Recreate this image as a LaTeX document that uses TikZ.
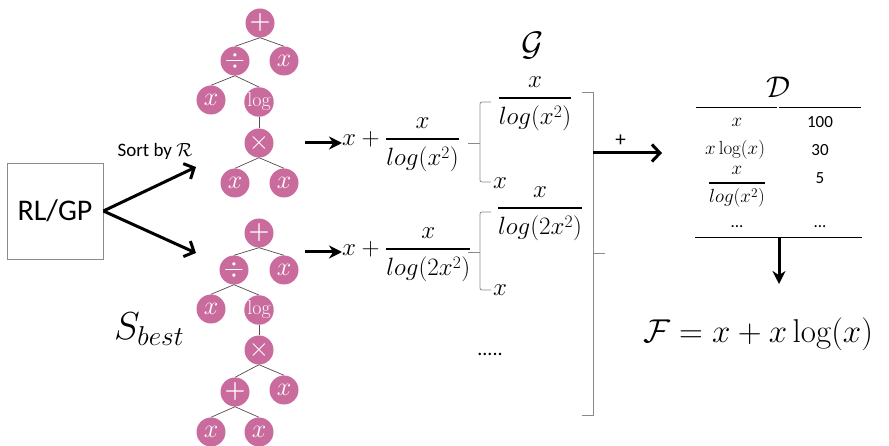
\RequirePackage{fix-cm}
\documentclass[tikz,border=0pt]{standalone}
\usepackage{fontspec}
\usepackage{amsmath, amssymb}
\usetikzlibrary{positioning, calc, arrows.meta}
\newfontfamily\calibri{Carlito}
\newcommand{\fsz}[1]{\fontsize{#1}{#1}\selectfont}
\newcommand{\barfrac}[2]{\genfrac{}{}{2.2pt}{0}{#1}{#2}}
\definecolor{Pink}{HTML}{C96B9D}
\definecolor{Edge}{HTML}{5A474F}
\definecolor{Frame}{HTML}{8A8A8A}
\tikzset{
    op/.style={circle, fill=Pink, text=white, minimum size=29pt, inner sep=0pt, font=\fsz{26}},
    link/.style={draw=Edge, line width=0.7pt},
    bigarrow/.style={-{Straight Barb[length=8pt, width=17pt]}, line width=3pt},
    arrow/.style={-{Stealth[length=13pt, width=13pt]}, line width=3pt},
    bracket/.style={draw=Frame, line width=0.8pt},
    rlbox/.style={rectangle, draw=Frame, line width=0.8pt, minimum width=96pt, minimum height=96pt, inner sep=0pt, font=\calibri\fsz{30}},
    expr/.style={inner sep=0pt, font=\fsz{25}},
    cell/.style={inner sep=0pt, font=\fsz{19}},
    num/.style={inner sep=0pt, font=\calibri\fsz{17}},
}
\begin{document}
\begin{tikzpicture}[x=1pt, y=-1pt]
\useasboundingbox (0,0) rectangle (889,446);

% RL/GP block and the two sorted outputs
\node[rlbox] (rl) at (55,211) {RL/GP};
\coordinate (up) at (196,167);
\coordinate (dn) at (196,253);
\draw[bigarrow] (rl.east) -- (up);
\draw[bigarrow] (rl.east) -- (dn);
\node[inner sep=0pt, font=\calibri\fsz{19}] (sort) at (155,151) {Sort by $\mathcal{R}$};
\node[inner sep=0pt, font=\fsz{39}] (sbest) at (149,329) {$S_{best}$};

% first tree
\node[op, font=\bfseries\fsz{24}] (A1) at (260,23) {+};
\node[op] (A2) at (235,61) {$\div$};
\node[op] (A3) at (284,61) {$x$};
\node[op] (A4) at (211,100) {$x$};
\node[op, font=\fsz{20}] (A5) at (259,102) {log};
\node[op] (A6) at (259,143) {$\times$};
\node[op] (A7) at (235,183) {$x$};
\node[op] (A8) at (284,183) {$x$};
\foreach \p/\c in {A1/A2, A1/A3, A2/A4, A2/A5, A5/A6, A6/A7, A6/A8}
    \draw[link] (\p.south) -- (\c.north);

% second tree
\node[op, font=\bfseries\fsz{24}] (B1) at (259,233) {+};
\node[op] (B2) at (234,270) {$\div$};
\node[op] (B3) at (284,270) {$x$};
\node[op] (B4) at (211,309) {$x$};
\node[op, font=\fsz{20}] (B5) at (259,310) {log};
\node[op] (B6) at (259,350) {$\times$};
\node[op, font=\bfseries\fsz{24}] (B7) at (235,392) {+};
\node[op] (B8) at (284,390) {$x$};
\node[op] (B9) at (211,432) {$x$};
\node[op] (B10) at (259,432) {$x$};
\foreach \p/\c in {B1/B2, B1/B3, B2/B4, B2/B5, B5/B6, B6/B7, B6/B8, B7/B9, B7/B10}
    \draw[link] (\p.south) -- (\c.north);

% expressions
\node[expr, anchor=west] (e1) at (342,145) {$x+\barfrac{x}{log(x^2)}$};
\node[expr, anchor=west] (e2) at (342,255) {$x+\barfrac{x}{log(2x^2)}$};
\coordinate (s1) at (305,143);
\coordinate (s2) at (305,252);
\draw[arrow] (s1) -- (s1 -| e1.west);
\draw[arrow] (s2) -- (s2 -| e2.west);

% G: split into terms
\node[inner sep=0pt, font=\fsz{34}] (G) at (533,46) {$\mathcal{G}$};
\draw[bracket, rounded corners=2pt] (491,102) -| (480,182) -- (491,182);
\draw[bracket] (468,143) -- (480,143);
\draw[bracket, rounded corners=2pt] (491,212) -| (480,290) -- (491,290);
\draw[bracket] (468,252) -- (480,252);
\node[expr] (g1) at (535,104) {$\barfrac{x}{log(x^2)}$};
\node[expr] (g2) at (500,183) {$x$};
\node[expr] (g3) at (540,214) {$\barfrac{x}{log(2x^2)}$};
\node[expr] (g4) at (500,290) {$x$};
\node[num, font=\calibri\fsz{20}] (dots) at (490,354) {.....};

% collect
\draw[bracket] (582,92) -- (593,92) -- (593,415) -- (582,415);
\draw[bracket] (593,253) -- (605,253);
\coordinate (c1) at (593,153);
\coordinate (c2) at (662,153);
\draw[bigarrow] (c1) -- (c2) node[pos=0.4, above=5pt, inner sep=0pt, font=\calibri\fsz{21}] {+};

% table D
\node[inner sep=0pt, font=\fsz{30}] (D) at (778,87) {$\mathcal{D}$};
\draw[line width=1pt] (696,108) -- (777,108);
\draw[line width=1pt] (779,108) -- (861,108);
\draw[line width=1pt] (695,238) -- (862,238);
\node[cell] (d11) at (737,122) {$x$};
\node[num] (d12) at (820,122) {100};
\node[cell] (d21) at (735,150) {$x\log(x)$};
\node[num] (d22) at (820,150) {30};
\node[cell] (d31) at (737,187) {$\genfrac{}{}{1.6pt}{0}{x}{log(x^2)}$};
\node[num] (d32) at (820,178) {5};
\node[num] (d41) at (737,227) {...};
\node[num] (d42) at (820,227) {...};

% final formula
\coordinate (t) at (779,238);
\node[inner sep=0pt, font=\fsz{33}] (F) at (758,334) {$\mathcal{F}=x+x\log(x)$};
\draw[arrow] (t) -- (779,284);
\end{tikzpicture}
\end{document}
